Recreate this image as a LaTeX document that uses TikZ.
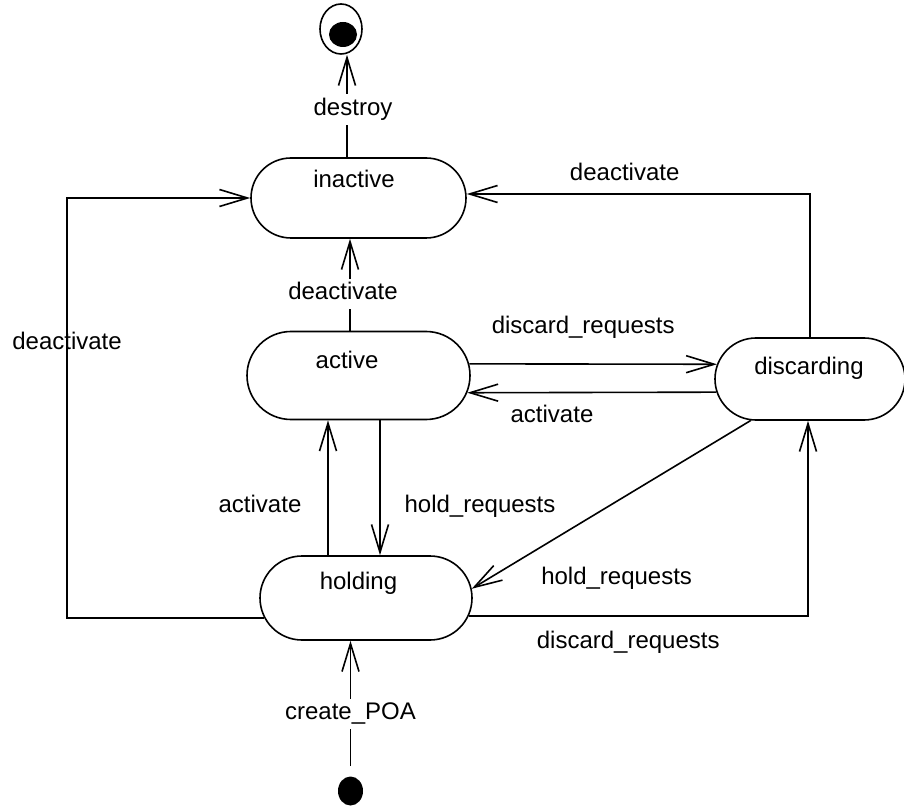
\documentclass[tikz,border=0pt]{standalone}
\usepackage{fontspec}
\setmainfont{Liberation Sans}
\usetikzlibrary{arrows.meta,shapes.misc,shapes.geometric}

\begin{document}
\begin{tikzpicture}[x=0.5pt, y=-0.5pt, line width=0.8pt]
    \tikzstyle{st} = [draw, rounded rectangle, inner sep=0pt]
    \tikzstyle{lbl} = [font=\fontsize{12}{14}\selectfont, text height=8.6pt, text depth=2.5pt, inner sep=2pt]
    \tikzstyle{trn} = [-{Straight Barb[length=14pt, width=8.5pt]}]
    \path[use as bounding box, fill=white] (0,0) rectangle (904,807);

    \node[draw, ellipse, minimum width=21pt, minimum height=25pt, inner sep=0pt] (fin) at (341,29) {};
    \fill ([shift={(1pt,-2.75pt)}]fin.center) ellipse [x radius=7pt, y radius=6.25pt];
    \node[st, minimum width=107.5pt, minimum height=40pt, label={[lbl, xshift=-2.25pt, yshift=8.5pt]center:inactive}] (inact) at (358.5,198) {};
    \node[st, minimum width=111.5pt, minimum height=44pt, label={[lbl, xshift=-5.75pt, yshift=6.75pt]center:active}] (act) at (358.5,375.5) {};
    \node[st, minimum width=95pt, minimum height=41pt, label={[lbl, xshift=-0.5pt, yshift=5.25pt]center:discarding}] (disc) at (810,379) {};
    \node[st, minimum width=106pt, minimum height=42pt, label={[lbl, xshift=-3.75pt, yshift=7.5pt]center:holding}] (hold) at (366,598) {};
    \node[fill, ellipse, minimum width=12.5pt, minimum height=14.5pt, inner sep=0pt] (ini) at (350.5,791) {};

    \coordinate (dstr) at ([xshift=-5.75pt]inact.north);
    \draw[trn] (dstr) -- node[lbl, fill=white, pos=0.49, xshift=3pt, yshift=-1.25pt] (ldestroy) {destroy} (dstr |- fin.south);
    \draw[trn] ([xshift=-4.25pt]act.north) -- node[lbl, fill=white, pos=0.43, xshift=-3.5pt, yshift=-1.25pt] (ldeact) {deactivate} ([xshift=-4.25pt]inact.south);
    \draw[trn] (hold.191) -- ++(-197,0) |- node[lbl, pos=0.33, yshift=-1.25pt] (ldeactl) {deactivate} (inact.west);
    \draw[trn] (disc.north) |- node[lbl, pos=0.77, yshift=9.75pt] (ldeactr) {deactivate} ([yshift=2pt]inact.east);

    \draw[trn] (act.6) -- node[lbl, pos=0.46, yshift=18.25pt] (ldiscu) {discard\_requests} (disc.171);
    \draw[trn] (disc.188) -- node[lbl, pos=0.66, yshift=-11.75pt] (lact) {activate} (act.351);
    \draw[trn] ([xshift=-19pt]hold.north) -- node[lbl, pos=0.38, xshift=-34pt, yshift=-1.25pt] (lactl) {activate} ([xshift=-15.25pt]act.south);
    \draw[trn] ([xshift=10.75pt]act.south) -- node[lbl, pos=0.62, xshift=50pt, yshift=-1.25pt] (lholdd) {hold\_requests} ([xshift=7pt]hold.north);
    \draw[trn] (disc.215) -- node[lbl, pos=0.85, xshift=51.5pt, yshift=-7.35pt] (lholdr) {hold\_requests} (hold.5);
    \draw[trn] (hold.350) -| node[lbl, pos=0.235, yshift=-13.25pt] (ldiscb) {discard\_requests} ([xshift=-1pt]disc.south);

    \draw[trn, shorten <=4.75pt] (ini.north) -- node[lbl, fill=white, pos=0.46] (lcreate) {create\_POA} (ini |- hold.south);
\end{tikzpicture}
\end{document}
